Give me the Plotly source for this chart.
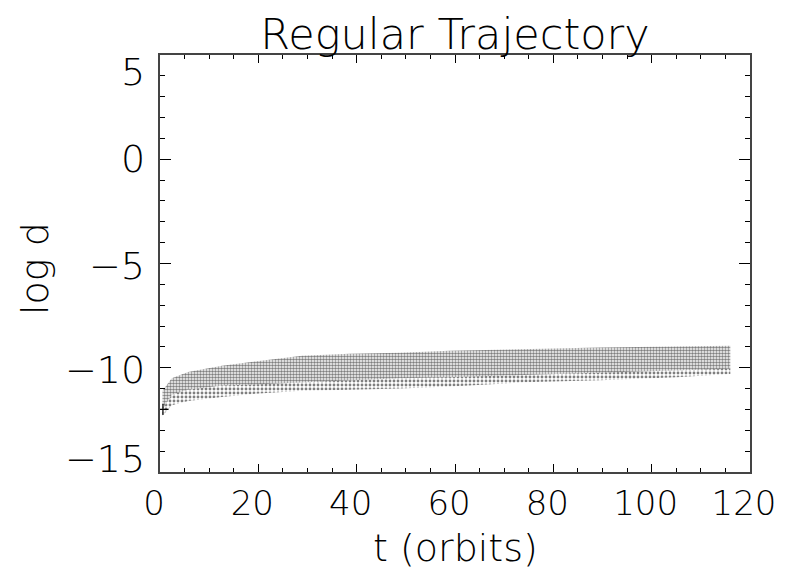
import plotly.graph_objects as go

# Envelopes of the dotted band
t_env = [0.5, 2.4, 5.7, 12.6, 19.3, 28.9, 38.6, 48.8, 59.0, 74.0, 89.5, 105.0, 116.0]
upper_env = [-11.1, -10.5, -10.2, -9.9, -9.7, -9.42, -9.33, -9.28, -9.18, -9.1, -9.03, -8.98, -8.94]
dense_edge = [-12.0, -11.3, -11.05, -10.85, -10.8, -10.7, -10.6, -10.5, -10.45, -10.35, -10.25, -10.15, -10.05]
lower_env = [-12.3, -11.8, -11.6, -11.4, -11.25, -11.1, -11.06, -11.0, -10.9, -10.7, -10.6, -10.45, -10.3]

start_t = [0.6]
start_logd = [-12.0]

y_ticks = [5, 0, -5, -10, -15]
y_tick_text = ["5", "0", "\u22125", "\u221210", "\u221215"]
y_label_shift = [-17, 0, -2, -2, 13]
x_ticks = [0, 20, 40, 60, 80, 100, 120]

FONT = "DejaVu Sans"
W = 200
FS = 38

fig = go.Figure()
fig.add_trace(go.Scatter(x=t_env, y=upper_env, mode="lines",
                         line=dict(color="rgba(0,0,0,0)", width=0),
                         hoverinfo="skip", showlegend=False))
fig.add_trace(go.Scatter(x=t_env, y=dense_edge, mode="lines",
                         line=dict(color="rgba(0,0,0,0)", width=0),
                         fill="tonexty", fillcolor="rgba(0,0,0,0)",
                         fillpattern=dict(shape=".", size=3, solidity=0.55,
                                          fgcolor="black", bgcolor="rgba(0,0,0,0)"),
                         hoverinfo="skip", showlegend=False))
fig.add_trace(go.Scatter(x=t_env, y=lower_env, mode="lines",
                         line=dict(color="rgba(0,0,0,0)", width=0),
                         fill="tonexty", fillcolor="rgba(0,0,0,0)",
                         fillpattern=dict(shape=".", size=4, solidity=0.4,
                                          fgcolor="black", bgcolor="rgba(0,0,0,0)"),
                         hoverinfo="skip", showlegend=False))
fig.add_trace(go.Scatter(x=start_t, y=start_logd, mode="markers",
                         marker=dict(symbol="cross-thin", size=8,
                                     line=dict(color="black", width=1.2)),
                         showlegend=False))

for v, txt, sh in zip(y_ticks, y_tick_text, y_label_shift):
    fig.add_annotation(x=0, xref="paper", y=v, yref="y", text=txt,
                       showarrow=False, xanchor="right", yanchor="middle",
                       xshift=-13, yshift=sh,
                       font=dict(family=FONT, size=FS, color="black", weight=W))

# axis titles
fig.add_annotation(x=0.5, xref="paper", y=-0.182, yref="paper", text="t (orbits)",
                   showarrow=False, xanchor="center", yanchor="middle",
                   font=dict(family=FONT, size=FS, color="black", weight=W))
fig.add_annotation(x=-0.212, xref="paper", y=0.489, yref="paper", text="log d",
                   textangle=-90, showarrow=False, xanchor="center", yanchor="middle",
                   font=dict(family=FONT, size=FS, color="black", weight=W))

axis_common = dict(
    showgrid=False, zeroline=False, automargin=False,
    showline=True, linecolor="#444", linewidth=1.5,
    mirror="ticks", ticks="inside", tickcolor="black", tickwidth=1,
)

fig.update_xaxes(range=[0, 120], tickvals=x_ticks, ticklen=8, ticklabeloverflow="allow",
                 ticklabelshift=-6,
                 minor=dict(dtick=5, ticks="inside", ticklen=4, tickcolor="black"),
                 tickfont=dict(family=FONT, size=34, color="black", weight=W),
                 **axis_common)
fig.update_yaxes(range=[-15, 5], tickvals=y_ticks, ticklen=11, showticklabels=False,
                 minor=dict(dtick=1, ticks="inside", ticklen=5, tickcolor="black"),
                 **axis_common)

fig.update_layout(
    width=778, height=564,
    margin=dict(l=152, r=36, t=47, b=100),
    paper_bgcolor="white", plot_bgcolor="white",
    title=dict(text="Regular Trajectory", x=0.5746, xanchor="center", y=0.954, yanchor="middle",
               font=dict(family=FONT, size=43, color="black", weight=W)),
)

fig.write_html("out.html",
               post_script="document.documentElement.style.overflow='hidden';"
                           "document.body.style.overflow='hidden';")
